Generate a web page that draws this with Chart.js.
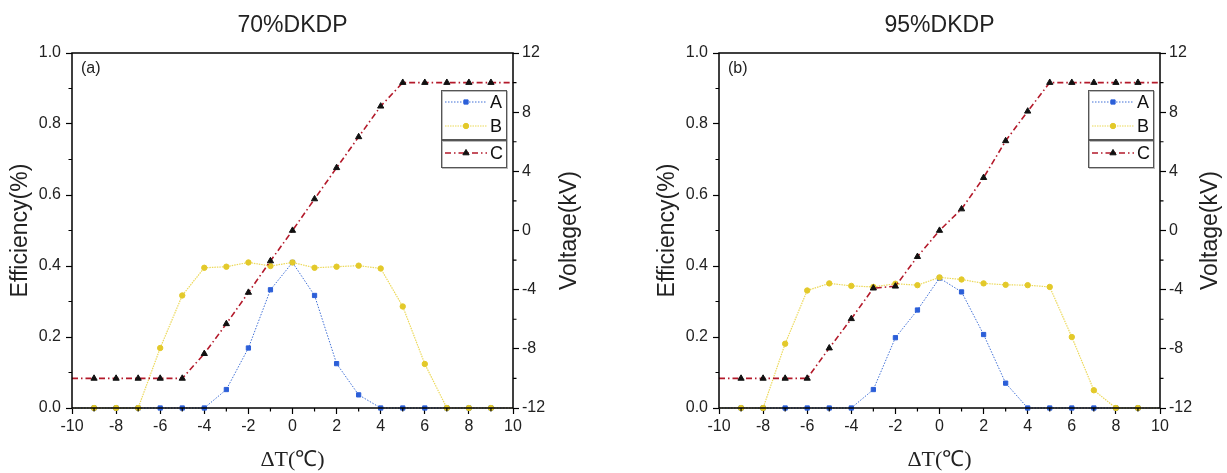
<!DOCTYPE html>
<html>
<head>
<meta charset="utf-8">
<script src="https://cdn.jsdelivr.net/npm/chart.js"></script>
<style>
  html, body { margin: 0; padding: 0; background: #fff; }
  body { width: 1227px; height: 473px; position: relative; overflow: hidden; }
  canvas { position: absolute; top: 0; }
  #left { left: 0; }
  #right { left: 647px; }
</style>
</head>
<body>
<canvas id="left" width="647" height="473"></canvas>
<canvas id="right" width="580" height="473"></canvas>
<script>
// temperature offsets (x axis)
const temps = [-10, -9, -8, -7, -6, -5, -4, -3, -2, -1, 0, 1, 2, 3, 4, 5, 6, 7, 8, 9, 10];

// 70% DKDP
const effA70 = [0, 0, 0, 0, 0, 0, 0, 0.052, 0.169, 0.333, 0.41, 0.317, 0.125, 0.037, 0, 0, 0, 0, 0, 0, 0];
const effB70 = [0, 0, 0, 0, 0.169, 0.317, 0.395, 0.398, 0.41, 0.40, 0.41, 0.395, 0.398, 0.401, 0.393, 0.286, 0.124, 0, 0, 0, 0];
const voltC70 = [-10, -10, -10, -10, -10, -10, -8.33, -6.31, -4.19, -2.06, 0, 2.13, 4.24, 6.33, 8.4, 10, 10, 10, 10, 10, 10];

// 95% DKDP
const effA95 = [0, 0, 0, 0, 0, 0, 0, 0.052, 0.198, 0.276, 0.366, 0.327, 0.207, 0.07, 0, 0, 0, 0, 0, 0, 0];
const effB95 = [0, 0, 0, 0.181, 0.331, 0.351, 0.344, 0.341, 0.35, 0.346, 0.368, 0.362, 0.351, 0.347, 0.346, 0.341, 0.2, 0.05, 0, 0, 0];
const voltC95 = [-10, -10, -10, -10, -10, -7.95, -5.97, -3.9, -3.77, -1.77, 0, 1.45, 3.57, 6.06, 8.06, 10, 10, 10, 10, 10, 10];

const seriesNames = ['A', 'B', 'C'];

const SANS = '"Liberation Sans", Arial, sans-serif';
const SERIF = '"Liberation Serif", "Times New Roman", serif';

function pts(ys) {
  return temps.map((t, i) => ({ x: t, y: ys[i] }));
}
function radii(r) {
  return temps.map(t => (Math.abs(t) === 10 ? 0 : r));
}

function drawMarker(ctx, style, x, y, r, fill, stroke) {
  ctx.save();
  ctx.setLineDash([]);
  ctx.fillStyle = fill;
  ctx.strokeStyle = stroke;
  ctx.lineWidth = 1;
  ctx.beginPath();
  if (style === 'rect') {
    const s = r * Math.SQRT1_2;
    ctx.rect(x - s, y - s, 2 * s, 2 * s);
  } else if (style === 'triangle') {
    ctx.moveTo(x, y - r);
    ctx.lineTo(x + r * 0.87, y + r * 0.5);
    ctx.lineTo(x - r * 0.87, y + r * 0.5);
    ctx.closePath();
  } else {
    ctx.arc(x, y, r, 0, Math.PI * 2);
  }
  ctx.fill();
  ctx.stroke();
  ctx.restore();
}

const framePlugin = {
  id: 'frame',
  afterDraw(chart, args, opts) {
    const { ctx, chartArea: a, scales } = chart;
    ctx.save();
    // box
    ctx.strokeStyle = '#000';
    ctx.lineWidth = 1.5;
    ctx.strokeRect(a.left, a.top, a.right - a.left, a.bottom - a.top);

    // minor ticks
    ctx.lineWidth = 1.2;
    ctx.beginPath();
    for (let v = -9; v <= 9; v += 2) {
      const px = scales.x.getPixelForValue(v);
      ctx.moveTo(px, a.bottom);
      ctx.lineTo(px, a.bottom + 3.5);
    }
    for (let k = 1; k <= 9; k += 2) {
      const py = scales.y.getPixelForValue(k / 10);
      ctx.moveTo(a.left, py);
      ctx.lineTo(a.left - 3.5, py);
    }
    for (let v = -10; v <= 10; v += 4) {
      const py = scales.y2.getPixelForValue(v);
      ctx.moveTo(a.right, py);
      ctx.lineTo(a.right + 3.5, py);
    }
    ctx.stroke();

    // panel tag
    ctx.fillStyle = '#222';
    ctx.font = '16px ' + SANS;
    ctx.textAlign = 'left';
    ctx.textBaseline = 'middle';
    ctx.fillText(opts.tag, a.left + 9, a.top + 16);

    // right axis title, reading bottom to top
    ctx.save();
    ctx.translate(a.right + opts.y2TitleOffset, (a.top + a.bottom) / 2);
    ctx.rotate(-Math.PI / 2);
    ctx.font = '23px ' + SANS;
    ctx.textAlign = 'center';
    ctx.fillText('Voltage(kV)', 0, 0);
    ctx.restore();

    // legend: A and B share one frame, C has its own
    const bx = a.right - 72, bw = 65;
    const boxes = [[a.top + 37, 49], [a.top + 87, 27]];
    boxes.forEach(([by, bh]) => {
      ctx.fillStyle = '#fff';
      ctx.fillRect(bx, by, bw, bh);
      ctx.strokeStyle = '#bbb';
      ctx.lineWidth = 1;
      ctx.strokeRect(bx + 1.5, by + 1.5, bw, bh);
      ctx.strokeStyle = '#555';
      ctx.strokeRect(bx + 0.5, by + 0.5, bw, bh);
    });
    const rows = [a.top + 49, a.top + 73, a.top + 100];
    chart.data.datasets.forEach((ds, i) => {
      const y = rows[i];
      ctx.save();
      ctx.strokeStyle = ds.borderColor;
      ctx.lineWidth = ds.borderWidth;
      ctx.setLineDash(ds.borderDash || []);
      ctx.beginPath();
      ctx.moveTo(bx + 4, y);
      ctx.lineTo(bx + 46, y);
      ctx.stroke();
      ctx.restore();
      drawMarker(ctx, ds.pointStyle, bx + 25, y, ds.legendRadius, ds.pointBackgroundColor, ds.pointBorderColor);
      ctx.fillStyle = '#111';
      ctx.font = '18px ' + SANS;
      ctx.textAlign = 'left';
      ctx.textBaseline = 'middle';
      ctx.fillText(seriesNames[i], bx + 49, y + 1);
    });
    ctx.restore();
  }
};

function makeChart(id, title, tag, effA, effB, voltC, y2Width, y2TitleOffset) {
  const tickFont = { family: SANS, size: 16 };
  return new Chart(document.getElementById(id), {
    type: 'line',
    data: {
      datasets: [
        {
          label: seriesNames[0],
          data: pts(effA),
          yAxisID: 'y',
          order: 3,
          borderColor: '#3f6fd6',
          borderWidth: 1,
          borderDash: [1.5, 1.5],
          pointStyle: 'rect',
          pointRadius: radii(3),
          legendRadius: 3,
          pointBackgroundColor: '#2c5fd8',
          pointBorderColor: '#2c5fd8',
          pointBorderWidth: 1
        },
        {
          label: seriesNames[1],
          data: pts(effB),
          yAxisID: 'y',
          order: 2,
          borderColor: '#ecd95a',
          borderWidth: 1.2,
          borderDash: [1.5, 1],
          pointStyle: 'circle',
          pointRadius: radii(2.7),
          legendRadius: 2.7,
          pointBackgroundColor: '#e3c92a',
          pointBorderColor: '#e3c92a',
          pointBorderWidth: 1
        },
        {
          label: seriesNames[2],
          data: pts(voltC),
          yAxisID: 'y2',
          order: 1,
          borderColor: '#b3192a',
          borderWidth: 1.6,
          borderDash: [6, 3, 1.5, 3],
          pointStyle: 'triangle',
          pointRadius: radii(3.6),
          legendRadius: 3.6,
          pointBackgroundColor: '#111',
          pointBorderColor: '#111',
          pointBorderWidth: 1
        }
      ]
    },
    options: {
      responsive: false,
      animation: false,
      clip: false,
      layout: { padding: { left: 7, right: 0, top: 0, bottom: 0 } },
      plugins: {
        legend: { display: false },
        tooltip: { enabled: false },
        title: {
          display: true,
          text: title,
          fullSize: false,
          color: '#222',
          font: { family: SANS, size: 23, weight: 'normal' },
          padding: { top: 12, bottom: 13.4 }
        },
        frame: { tag: tag, y2TitleOffset: y2TitleOffset }
      },
      scales: {
        x: {
          type: 'linear',
          min: -10,
          max: 10,
          border: { display: false },
          grid: { drawOnChartArea: false, drawTicks: true, tickLength: 6, tickColor: '#000', tickWidth: 1.2 },
          ticks: { stepSize: 2, autoSkip: false, maxRotation: 0, padding: 3, color: '#222', font: tickFont },
          title: { display: true, text: 'ΔT(℃)', color: '#222', padding: 0, font: { family: SERIF, size: 22 } },
          afterFit(scale) { scale.height = 65; }
        },
        y: {
          position: 'left',
          min: 0,
          max: 1,
          border: { display: false },
          grid: { drawOnChartArea: false, drawTicks: true, tickLength: 6, tickColor: '#000', tickWidth: 1.2 },
          ticks: { stepSize: 0.2, padding: 5, color: '#222', font: tickFont, callback: v => v.toFixed(1) },
          title: { display: true, text: 'Efficiency(%)', color: '#222', padding: 0, font: { family: SANS, size: 23 } },
          afterFit(scale) { scale.width = 65; }
        },
        y2: {
          position: 'right',
          min: -12,
          max: 12,
          border: { display: false },
          grid: { drawOnChartArea: false, drawTicks: true, tickLength: 6, tickColor: '#000', tickWidth: 1.2 },
          ticks: { stepSize: 4, padding: 3, color: '#222', font: tickFont },
          afterFit(scale) { scale.width = y2Width; }
        }
      }
    },
    plugins: [framePlugin]
  });
}

makeChart('left', '70%DKDP', '(a)', effA70, effB70, voltC70, 134, 57);
makeChart('right', '95%DKDP', '(b)', effA95, effB95, voltC95, 67, 51);
</script>
</body>
</html>
